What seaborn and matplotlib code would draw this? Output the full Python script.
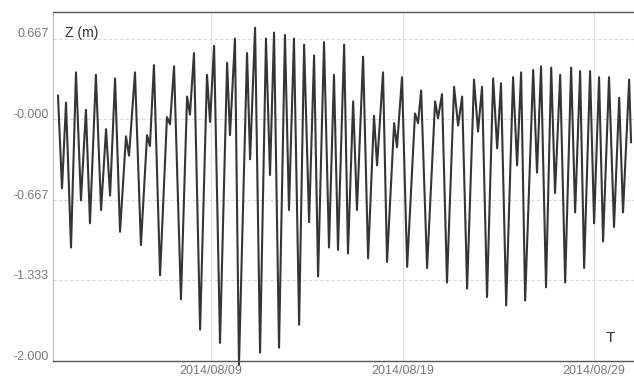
import numpy as np
import pandas as pd
import matplotlib
matplotlib.use("Agg")
import matplotlib.pyplot as plt
import matplotlib.dates as mdates
import matplotlib.transforms as mtransforms
import seaborn as sns

# Tide turning points: day of August 2014 (fractional) and water level Z in metres
tide_day = [
    1.01, 1.22, 1.43, 1.69, 1.95, 2.21, 2.47, 2.68, 2.99, 3.26,
    3.52, 3.73, 3.99, 4.25, 4.56, 4.72, 5.03, 5.34, 5.66, 5.81,
    6.02, 6.34, 6.70, 6.86, 7.07, 7.43, 7.75, 7.90, 8.11, 8.43,
    8.79, 8.95, 9.16, 9.47, 9.84, 9.99, 10.25, 10.46, 10.88, 11.04,
    11.30, 11.56, 11.87, 12.08, 12.29, 12.55, 12.86, 13.07, 13.33, 13.60,
    13.86, 14.12, 14.38, 14.59, 14.90, 15.16, 15.42, 15.63, 15.95, 16.15,
    16.42, 16.62, 16.94, 17.20, 17.51, 17.67, 17.98, 18.19, 18.56, 18.71,
    18.97, 19.24, 19.65, 19.81, 19.97, 20.28, 20.70, 20.85, 21.06, 21.32,
    21.69, 21.90, 22.11, 22.37, 22.73, 22.94, 23.15, 23.41, 23.73, 23.94,
    24.14, 24.41, 24.77, 24.98, 25.19, 25.40, 25.82, 26.02, 26.23, 26.49,
    26.76, 26.96, 27.23, 27.49, 27.80, 28.01, 28.27, 28.48, 28.79, 29.00,
    29.26, 29.47, 29.78, 30.04, 30.31, 30.51, 30.83, 30.93,
]
tide_level = [
    0.20, -0.57, 0.14, -1.06, 0.39, -0.67, 0.08, -0.86, 0.37, -0.75,
    -0.08, -0.63, 0.34, -0.93, -0.14, -0.30, 0.39, -1.04, -0.13, -0.22,
    0.45, -1.29, 0.02, -0.04, 0.44, -1.49, 0.19, 0.04, 0.55, -1.74,
    0.37, -0.02, 0.61, -1.85, 0.47, -0.13, 0.67, -2.03, 0.55, -0.33,
    0.76, -1.93, 0.67, -0.46, 0.72, -1.89, 0.70, -0.75, 0.67, -1.70,
    0.62, -0.85, 0.53, -1.30, 0.64, -1.06, 0.37, -1.08, 0.62, -1.11,
    0.15, -0.75, 0.52, -1.15, 0.03, -0.38, 0.39, -1.18, -0.03, -0.23,
    0.35, -1.22, 0.05, -0.03, 0.24, -1.23, 0.15, 0.01, 0.21, -1.35,
    0.27, -0.05, 0.19, -1.40, 0.33, -0.10, 0.27, -1.47, 0.34, -0.24,
    0.30, -1.54, 0.35, -0.38, 0.39, -1.50, 0.41, -0.44, 0.44, -1.39,
    0.43, -0.61, 0.37, -1.35, 0.43, -0.77, 0.40, -1.23, 0.40, -0.86,
    0.35, -1.01, 0.35, -0.89, 0.18, -0.77, 0.33, -0.19,
]

y_ticks = [0.667, 0.0, -0.667, -1.333, -2.0]
y_tick_labels = ["0.667", "-0.000", "-0.667", "-1.333", "-2.000"]
x_tick_dates = ["2014-08-09", "2014-08-19", "2014-08-29"]

month_start = pd.Timestamp("2014-08-01")
times = month_start + pd.to_timedelta(np.array(tide_day) - 1.0, unit="D")
df = pd.DataFrame({"time": times, "Z": tide_level})

sns.set_style("white")
plt.rcParams["font.family"] = ["Liberation Sans", "DejaVu Sans"]

fig = plt.figure(figsize=(6.34, 3.81), dpi=100)
ax = fig.add_axes([53 / 634, 20 / 381, 1 - 53 / 634, 349 / 381])

sns.lineplot(data=df, x="time", y="Z", ax=ax, color="#353535",
             linewidth=1.5, estimator=None, sort=False)
for ln in ax.get_lines():
    ln.set_clip_on(False)
    ln.set_solid_joinstyle("round")

ax.set_xlim(month_start + pd.Timedelta(hours=-6),
            month_start + pd.Timedelta(days=30, hours=2))
ax.set_ylim(-2.0, 0.89)

ax.set_yticks(y_ticks)
ax.set_yticklabels(y_tick_labels)
ax.set_xticks([pd.Timestamp(d) for d in x_tick_dates])
ax.xaxis.set_major_formatter(mdates.DateFormatter("%Y/%m/%d"))

ax.tick_params(axis="both", length=0, labelsize=9, colors="#7a7a7a")
ax.tick_params(axis="y", pad=3)
ax.tick_params(axis="x", pad=3)

# y labels sit slightly above their grid lines
lift = mtransforms.ScaledTranslation(0, 6 / 100, fig.dpi_scale_trans)
for lab in ax.get_yticklabels():
    lab.set_transform(lab.get_transform() + lift)

ax.grid(True, axis="y", color="#dadada", linewidth=0.8, linestyle=(0, (3, 2)))
ax.grid(True, axis="x", color="#e2e2e2", linewidth=0.8, linestyle="-")
ax.set_axisbelow(True)

ax.spines["top"].set_color("#555555")
ax.spines["top"].set_linewidth(1.0)
ax.spines["bottom"].set_color("#555555")
ax.spines["bottom"].set_linewidth(1.0)
ax.spines["left"].set_color("#b8b8b8")
ax.spines["left"].set_linewidth(0.8)
ax.spines["right"].set_visible(False)

ax.set_xlabel("")
ax.set_ylabel("")

ax.text(12 / 581, 0.94, "Z (m)", transform=ax.transAxes, fontsize=10,
        color="#333333", ha="left", va="center")
ax.text(0.959, 0.066, "T", transform=ax.transAxes, fontsize=11,
        color="#333333", ha="center", va="center")

fig.savefig("out.png", dpi=100, facecolor="white")
